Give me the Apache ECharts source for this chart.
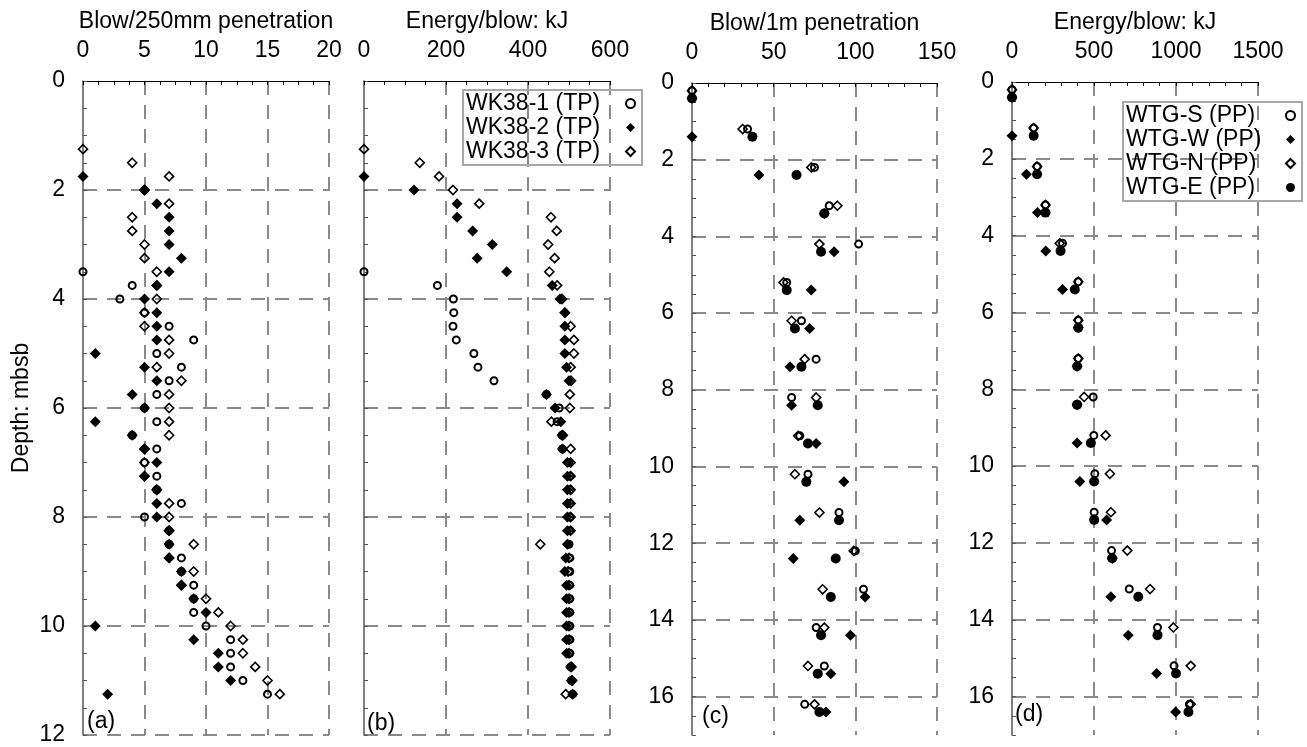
<!DOCTYPE html>
<html>
<head>
<meta charset="utf-8">
<script src="https://cdn.jsdelivr.net/npm/echarts@6/dist/echarts.min.js"></script>
<style>
  html, body { margin: 0; padding: 0; background: #fff; }
  #chart { width: 1307px; height: 747px; }
</style>
</head>
<body>
<div id="chart"></div>
<script>
// depths (m) for the TP piles, panels (a) and (b)
const depthTP = [1.25, 1.5, 1.75, 2, 2.25, 2.5, 2.75, 3, 3.25, 3.5, 3.75, 4, 4.25, 4.5, 4.75, 5,
  5.25, 5.5, 5.75, 6, 6.25, 6.5, 6.75, 7, 7.25, 7.5, 7.75, 8, 8.25, 8.5, 8.75, 9, 9.25, 9.5,
  9.75, 10, 10.25, 10.5, 10.75, 11, 11.25]

// (a) blows / 250 mm
const blowWK1 = [null, null, null, null, null, null, null, null, null, 0, 4, 3, 5, 7, 9, 6,
  8, 7, 6, 5, 6, 4, 6, 5, 6, 6, 8, 5, 7, 7, 8, 8, 9, 9, 9, 10, 12, 12, 12, 13, 15]
const blowWK2 = [null, null, 0, 5, 6, 7, 7, 7, 8, 7, 6, 5, 6, 6, 6, 1,
  5, 6, 4, 5, 1, 4, 5, 6, 5, 6, 6, 6, 7, 7, 7, 8, 8, 9, 10, 1, 9, 11, 11, 12, 2]
const blowWK3 = [0, 4, 7, 5, 7, 4, 4, 5, 5, 6, 6, 6, 5, 5, 7, 7,
  6, 8, 7, 7, 7, 7, 5, 5, 5, 6, 7, 7, 7, 9, 7, 9, 8, 10, 11, 12, 13, 13, 14, 15, 16]

// (b) energy / blow, kJ
const energyWK1 = [null, null, null, null, null, null, null, null, null, 0, 179, 218, 219, 217, 225, 268,
  278, 317, 445, 476, 471, 483, 484, 500, 502, 502, 502, 502, 502, 500, 502, 502, 502, 502,
  502, 502, 502, 502, 504, 506, 509]
const energyWK2 = [null, null, 0, 122, 227, 227, 265, 313, 276, 348, 459, 478, 490, 490, 490, 490,
  494, 500, 445, 466, 480, 483, 484, 496, 496, 496, 496, 496, 496, 496, 492, 490, 494, 494,
  494, 494, 494, 494, 504, 506, 509]
const energyWK3 = [0, 136, 183, 217, 281, 456, 470, 449, 465, 452, 471, 483, 490, 504, 512, 512,
  504, 505, 502, 502, 457, 485, 504, 504, 504, 504, 504, 504, 504, 430, 500, 498, 500, 500,
  500, 500, 500, 500, 506, 508, 492]

// depths (m) for the PP piles, panels (c) and (d)
const depthPP_SN = [0.2, 1.2, 2.2, 3.2, 4.2, 5.2, 6.2, 7.2, 8.2, 9.2, 10.2, 11.2, 12.2, 13.2, 14.2, 15.2, 16.2]
const depthPP_WE = [0.4, 1.4, 2.4, 3.4, 4.4, 5.4, 6.4, 7.4, 8.4, 9.4, 10.4, 11.4, 12.4, 13.4, 14.4, 15.4, 16.4]

// (c) blows / 1 m
const blowS = [0, 34, 75, 84, 102, 58, 67, 76, 61, 66, 71, 90, 100, 105, 76, 81, 69]
const blowW = [0, 0, 41, 81, 87, 73, 72, 60, 61, 76, 93, 66, 62, 106, 97, 85, 82]
const blowN = [0, 31, 73, 89, 78, 56, 61, 69, 76, 65, 63, 78, 99, 80, 81, 71, 75]
const blowE = [0, 37, 64, 81, 79, 58, 63, 67, 77, 71, 70, 90, 88, 85, 79, 77, 78]

// (d) energy / blow, kJ
const energyS = [0, 132, 153, 204, 308, 404, 404, 404, 495, 499, 505, 501, 607, 715, 887, 988, 1082]
const energyW = [0, 0, 88, 155, 206, 308, 404, 397, 397, 397, 414, 577, 611, 603, 709, 882, 998]
const energyN = [0, 132, 153, 204, 291, 404, 404, 404, 440, 571, 597, 603, 703, 842, 984, 1090, 1090]
const energyE = [0, 132, 153, 204, 296, 383, 404, 397, 397, 481, 501, 501, 611, 770, 887, 1000, 1076]

const namesTP = ['WK38-1 (TP)', 'WK38-2 (TP)', 'WK38-3 (TP)']
const namesPP = ['WTG-S (PP)', 'WTG-W (PP)', 'WTG-N (PP)', 'WTG-E (PP)']

const FONT = "'Liberation Sans', Arial, sans-serif"
const FS = 23
const dash = { color: '#8a8a8a', width: 2, type: [14, 10] }

const pairs = (depths, vals) => vals.map((v, i) => [v, depths[i]]).filter(p => p[0] !== null)

// marker styles
const openCircle = { symbol: 'circle', symbolSize: 7, itemStyle: { color: 'transparent', borderColor: '#000', borderWidth: 2, opacity: 1 } }
const fullDiamond = { symbol: 'diamond', symbolSize: 11, itemStyle: { color: '#000', borderWidth: 0, opacity: 1 } }
const openDiamond = { symbol: 'diamond', symbolSize: 9, itemStyle: { color: 'transparent', borderColor: '#000', borderWidth: 1.6, opacity: 1 } }
const fullCircle = { symbol: 'circle', symbolSize: 10, itemStyle: { color: '#000', borderWidth: 0, opacity: 1 } }

function scatter(name, idx, depths, vals, style) {
  return Object.assign({
    type: 'scatter', name: name, xAxisIndex: idx, yAxisIndex: idx,
    data: pairs(depths, vals), emphasis: { disabled: true }
  }, style)
}

function xAx(idx, name, max, interval, minorSplit) {
  return {
    gridIndex: idx, type: 'value', position: 'top', min: 0, max: max, interval: interval,
    name: name, nameLocation: 'middle', nameGap: 48,
    nameTextStyle: { fontSize: FS, color: '#000', fontFamily: FONT },
    axisLine: { show: true, onZero: false, lineStyle: { color: '#000', width: 1 } },
    axisTick: { show: true, inside: true, length: 4, lineStyle: { color: '#000' } },
    minorTick: { show: true, splitNumber: minorSplit, length: 4, lineStyle: { color: '#000' } },
    axisLabel: { fontSize: FS, color: '#000', margin: 19, fontFamily: FONT, formatter: v => String(v) },
    splitLine: { show: true, showMinLine: false, lineStyle: dash }
  }
}

function yAx(idx, max, showLabels, cutMax) {
  return {
    gridIndex: idx, type: 'value', inverse: true, min: 0, max: max, interval: 2,
    axisLine: { show: true, onZero: false, lineStyle: { color: '#555', width: 1.5 } },
    axisTick: { show: true, inside: true, length: 4, lineStyle: { color: '#555' } },
    minorTick: { show: true, splitNumber: 4, length: 4, lineStyle: { color: '#555' } },
    axisLabel: { show: showLabels, fontSize: FS, color: '#000', margin: 18, fontFamily: FONT, showMaxLabel: !cutMax, formatter: v => String(v) },
    splitLine: { show: true, showMinLine: false, showMaxLine: !cutMax, lineStyle: dash }
  }
}

function legendBox(names, left, top) {
  return {
    data: names, orient: 'vertical', left: left, top: top, align: 'right',
    itemWidth: 9, itemHeight: 9, itemGap: 1, padding: [2, 6, 2, 3],
    borderColor: '#a8a8a8', borderWidth: 2, backgroundColor: 'transparent',
    selectedMode: false,
    formatter: '{t|{name}}',
    textStyle: {
      color: '#000', fontSize: FS, fontFamily: FONT,
      rich: { t: { width: 155, fontSize: FS, lineHeight: 26, align: 'left', fontFamily: FONT, color: '#000' } }
    }
  }
}

const myChart = echarts.init(document.getElementById('chart'), null, { renderer: 'canvas' })

const yA = yAx(0, 12, true, false)
yA.name = 'Depth: mbsb'
yA.nameLocation = 'middle'
yA.nameGap = 50
yA.nameTextStyle = { fontSize: FS, color: '#000', fontFamily: FONT }

const panelLabel = (txt, left, top) => ({
  type: 'text', left: left, top: top,
  style: { text: txt, fontSize: FS, fontFamily: FONT, fill: '#000' }
})

myChart.setOption({
  backgroundColor: '#fff',
  animation: false,
  textStyle: { fontFamily: FONT },
  grid: [
    { left: 83, top: 81, width: 246, height: 654, containLabel: false, outerBoundsMode: 'none' },
    { left: 364, top: 81, width: 246, height: 654, containLabel: false, outerBoundsMode: 'none' },
    { left: 692, top: 83, width: 245, height: 652, containLabel: false, outerBoundsMode: 'none' },
    { left: 1012, top: 82, width: 246, height: 653, containLabel: false, outerBoundsMode: 'none' }
  ],
  xAxis: [
    xAx(0, 'Blow/250mm penetration', 20, 5, 4),
    xAx(1, 'Energy/blow: kJ', 600, 200, 4),
    xAx(2, 'Blow/1m penetration', 150, 50, 5),
    xAx(3, 'Energy/blow: kJ', 1500, 500, 5)
  ],
  yAxis: [
    yA,
    yAx(1, 12, false, false),
    yAx(2, 17, true, true),
    yAx(3, 17, true, true)
  ],
  legend: [
    legendBox(namesTP, 463, 90),
    legendBox(namesPP, 1123, 102)
  ],
  graphic: [
    panelLabel('(a)', 87, 710),
    panelLabel('(b)', 367, 712),
    panelLabel('(c)', 702, 705),
    panelLabel('(d)', 1015, 703)
  ],
  series: [
    scatter(namesTP[0], 0, depthTP, blowWK1, openCircle),
    scatter(namesTP[1], 0, depthTP, blowWK2, fullDiamond),
    scatter(namesTP[2], 0, depthTP, blowWK3, openDiamond),
    scatter(namesTP[0], 1, depthTP, energyWK1, openCircle),
    scatter(namesTP[1], 1, depthTP, energyWK2, fullDiamond),
    scatter(namesTP[2], 1, depthTP, energyWK3, openDiamond),
    scatter(namesPP[0], 2, depthPP_SN, blowS, openCircle),
    scatter(namesPP[1], 2, depthPP_WE, blowW, fullDiamond),
    scatter(namesPP[2], 2, depthPP_SN, blowN, openDiamond),
    scatter(namesPP[3], 2, depthPP_WE, blowE, fullCircle),
    scatter(namesPP[0], 3, depthPP_SN, energyS, openCircle),
    scatter(namesPP[1], 3, depthPP_WE, energyW, fullDiamond),
    scatter(namesPP[2], 3, depthPP_SN, energyN, openDiamond),
    scatter(namesPP[3], 3, depthPP_WE, energyE, fullCircle)
  ]
})
</script>
</body>
</html>
